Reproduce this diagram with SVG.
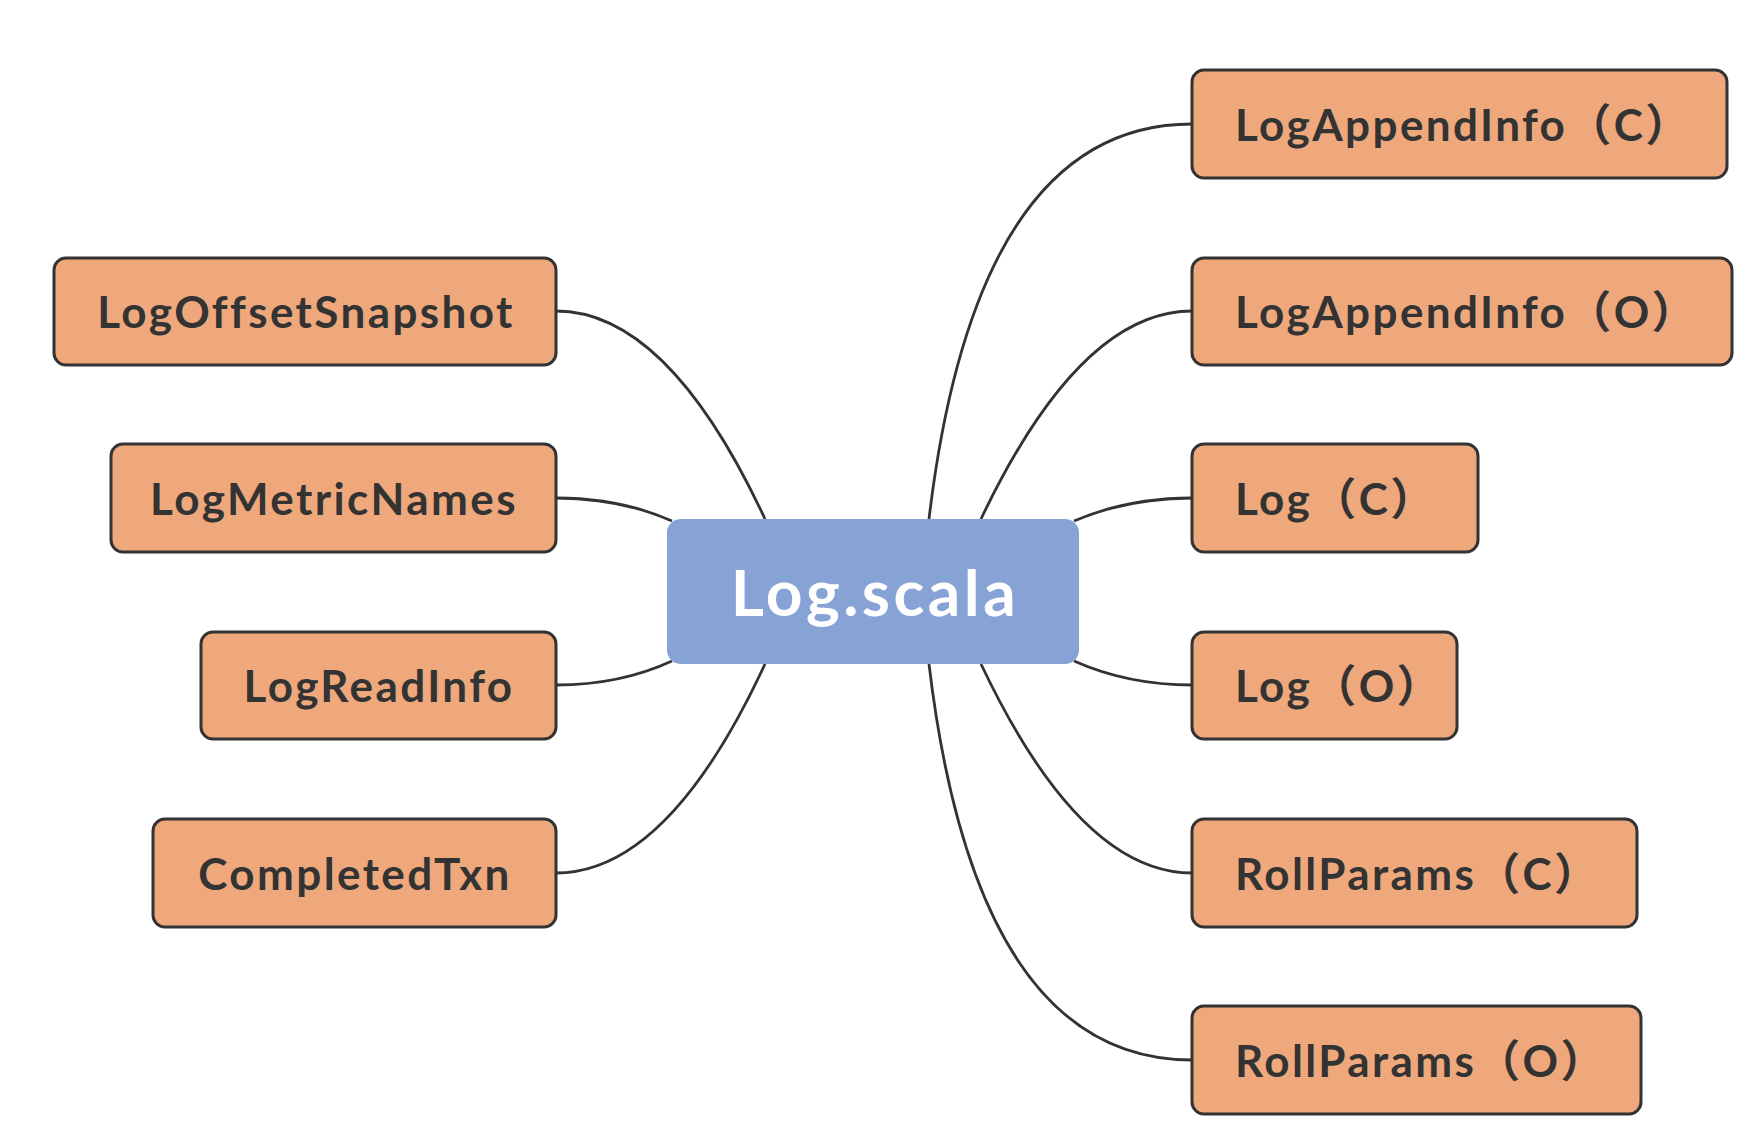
<svg xmlns="http://www.w3.org/2000/svg" width="1764" height="1138" viewBox="0 0 1764 1138">
<style>
.node rect{fill:#EFA87C;stroke:#333;stroke-width:3}
.node text{font-family:Lato,"Noto Sans CJK SC",sans-serif;font-weight:700;font-size:44px;letter-spacing:2.4px;fill:#333;dominant-baseline:central}
.l text{text-anchor:middle}
.r text{text-anchor:start}
.root rect{fill:#87A2D5}
.root text{font-family:Lato,sans-serif;font-weight:700;font-size:64px;letter-spacing:3.5px;fill:#fff;text-anchor:middle;dominant-baseline:central}
.conn path{fill:none;stroke:#333;stroke-width:2.8}
</style>
<rect width="1764" height="1138" fill="#fff"/>
<g id="connectors" class="conn">
<path d="M556,311 Q668,311 765,519"/>
<path d="M556,498 Q620,498 672,521"/>
<path d="M556,685 Q620,685 672,661"/>
<path d="M556,873 Q668,873 765,664"/>
<path d="M929,519 Q976,124 1192,124"/>
<path d="M981,519 Q1080,311 1192,311"/>
<path d="M1074,521 Q1128,498 1192,498"/>
<path d="M1074,661 Q1128,685 1192,685"/>
<path d="M981,664 Q1080,873 1192,873"/>
<path d="M929,664 Q976,1060 1192,1060"/>
</g>
<g id="root" class="root"><rect x="667" y="519" width="412" height="145" rx="14"/><text x="875" y="591">Log.scala</text></g>
<g id="n-logoffsetsnapshot" class="node l"><rect x="54" y="258" width="502" height="107" rx="12"/><text x="306" y="311">LogOffsetSnapshot</text></g>
<g id="n-logmetricnames" class="node l"><rect x="111" y="444" width="445" height="108" rx="12"/><text x="334" y="498">LogMetricNames</text></g>
<g id="n-logreadinfo" class="node l"><rect x="201" y="632" width="355" height="107" rx="12"/><text x="379" y="685">LogReadInfo</text></g>
<g id="n-completedtxn" class="node l"><rect x="153" y="819" width="403" height="108" rx="12"/><text x="355" y="873">CompletedTxn</text></g>
<g id="n-logappendinfo-c" class="node r"><rect x="1192" y="70" width="535" height="108" rx="12"/><text x="1235" y="124">LogAppendInfo（C）</text></g>
<g id="n-logappendinfo-o" class="node r"><rect x="1192" y="258" width="540" height="107" rx="12"/><text x="1235" y="311">LogAppendInfo（O）</text></g>
<g id="n-log-c" class="node r"><rect x="1192" y="444" width="286" height="108" rx="12"/><text x="1235" y="498">Log（C）</text></g>
<g id="n-log-o" class="node r"><rect x="1192" y="632" width="265" height="107" rx="12"/><text x="1235" y="685">Log（O）</text></g>
<g id="n-rollparams-c" class="node r"><rect x="1192" y="819" width="445" height="108" rx="12"/><text x="1235" y="873">RollParams（C）</text></g>
<g id="n-rollparams-o" class="node r"><rect x="1192" y="1006" width="449" height="108" rx="12"/><text x="1235" y="1060">RollParams（O）</text></g>
</svg>
